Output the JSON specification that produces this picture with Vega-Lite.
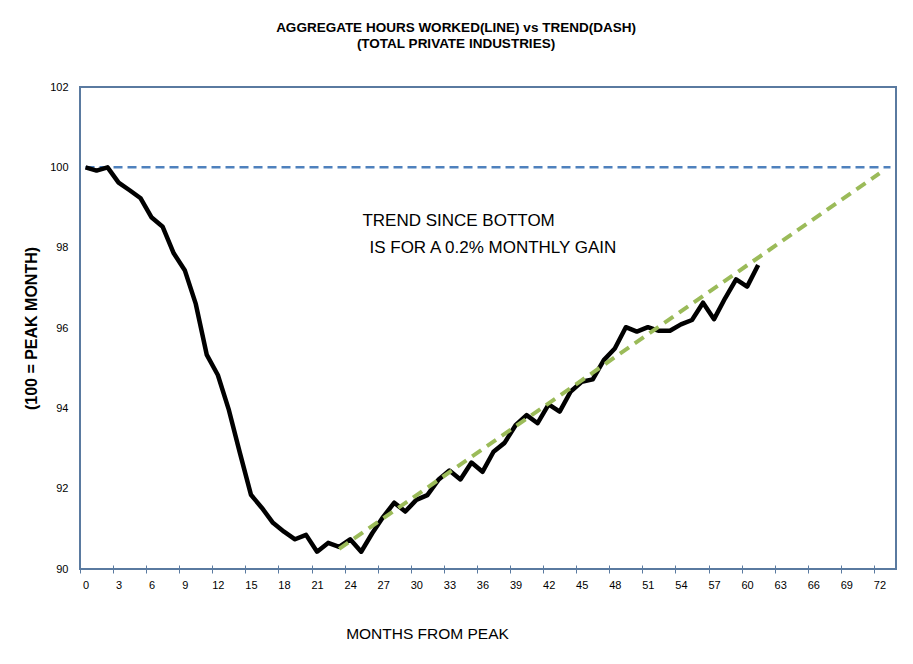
{
  "$schema": "https://vega.github.io/schema/vega-lite/v6.json",
  "width": 816,
  "height": 482,
  "autosize": {"type": "none"},
  "padding": {"left": 80, "top": 87, "right": 17, "bottom": 95},
  "background": "#ffffff",
  "config": {
    "view": {"stroke": "#5a7aa0", "strokeWidth": 2},
    "font": "Liberation Sans",
    "axis": {"labelOverlap": false, "labelFlush": false, "labelBound": false}
  },
  "title": {
    "text": ["AGGREGATE HOURS WORKED(LINE) vs TREND(DASH)", "(TOTAL PRIVATE INDUSTRIES)"],
    "font": "Liberation Sans",
    "fontSize": 13.5,
    "fontWeight": "bold",
    "lineHeight": 16,
    "anchor": "middle",
    "frame": "group",
    "dx": -32,
    "offset": 31,
    "color": "#000000"
  },
  "datasets": {
    "hours": [
      {"month": 0, "value": 100.0}, {"month": 1, "value": 99.92}, {"month": 2, "value": 100.0},
      {"month": 3, "value": 99.62}, {"month": 4, "value": 99.43}, {"month": 5, "value": 99.23},
      {"month": 6, "value": 98.75}, {"month": 7, "value": 98.52}, {"month": 8, "value": 97.86},
      {"month": 9, "value": 97.44}, {"month": 10, "value": 96.6}, {"month": 11, "value": 95.33},
      {"month": 12, "value": 94.83}, {"month": 13, "value": 93.96}, {"month": 14, "value": 92.89},
      {"month": 15, "value": 91.85}, {"month": 16, "value": 91.52}, {"month": 17, "value": 91.15},
      {"month": 18, "value": 90.93}, {"month": 19, "value": 90.74}, {"month": 20, "value": 90.85},
      {"month": 21, "value": 90.43}, {"month": 22, "value": 90.65}, {"month": 23, "value": 90.55},
      {"month": 24, "value": 90.74}, {"month": 25, "value": 90.43}, {"month": 26, "value": 90.89},
      {"month": 27, "value": 91.3}, {"month": 28, "value": 91.65}, {"month": 29, "value": 91.43},
      {"month": 30, "value": 91.72}, {"month": 31, "value": 91.84}, {"month": 32, "value": 92.22},
      {"month": 33, "value": 92.45}, {"month": 34, "value": 92.23}, {"month": 35, "value": 92.65},
      {"month": 36, "value": 92.42}, {"month": 37, "value": 92.92}, {"month": 38, "value": 93.14},
      {"month": 39, "value": 93.58}, {"month": 40, "value": 93.83}, {"month": 41, "value": 93.63},
      {"month": 42, "value": 94.1}, {"month": 43, "value": 93.92}, {"month": 44, "value": 94.42},
      {"month": 45, "value": 94.66}, {"month": 46, "value": 94.72}, {"month": 47, "value": 95.2},
      {"month": 48, "value": 95.49}, {"month": 49, "value": 96.02}, {"month": 50, "value": 95.91},
      {"month": 51, "value": 96.02}, {"month": 52, "value": 95.93}, {"month": 53, "value": 95.93},
      {"month": 54, "value": 96.09}, {"month": 55, "value": 96.2}, {"month": 56, "value": 96.63},
      {"month": 57, "value": 96.22}, {"month": 58, "value": 96.74}, {"month": 59, "value": 97.21},
      {"month": 60, "value": 97.03}, {"month": 61, "value": 97.57}
    ],
    "trend": [
      {"month": 23, "value": 90.5},
      {"month": 72, "value": 99.85}
    ],
    "peak": [
      {"level": 100}
    ],
    "note": [
      {"line": "TREND SINCE BOTTOM"}
    ],
    "note2": [
      {"line": "IS FOR A 0.2% MONTHLY GAIN"}
    ]
  },
  "layer": [
    {
      "data": {"name": "peak"},
      "mark": {"type": "rule", "color": "#4f81bd", "strokeWidth": 2.5, "strokeDash": [9, 5]},
      "encoding": {
        "x": {"datum": 0, "type": "quantitative"},
        "x2": {"datum": 73},
        "y": {"field": "level", "type": "quantitative"}
      }
    },
    {
      "data": {"name": "hours"},
      "mark": {"type": "line", "color": "#000000", "strokeWidth": 4.5, "strokeJoin": "round"},
      "encoding": {
        "x": {
          "field": "month",
          "type": "quantitative",
          "scale": {"domain": [-0.5, 73.5], "nice": false, "zero": false},
          "axis": {
            "title": "MONTHS FROM PEAK",
            "values": [-0.5, 2.5, 5.5, 8.5, 11.5, 14.5, 17.5, 20.5, 23.5, 26.5, 29.5, 32.5, 35.5, 38.5, 41.5, 44.5, 47.5, 50.5, 53.5, 56.5, 59.5, 62.5, 65.5, 68.5, 71.5],
            "tickCount": 40,
            "labelExpr": "format(datum.value + 0.5, 'd')",
            "labelOffset": 5.5,
            "labelOverlap": false,
            "labelFlush": false,
            "labelBound": false,
            "labelFontSize": 11,
            "labelColor": "#000000",
            "labelPadding": 6,
            "tickSize": 8,
            "tickColor": "#5a7aa0",
            "tickWidth": 1,
            "offset": -4,
            "domain": false,
            "grid": false,
            "titleFontSize": 15.5,
            "titleFontWeight": "normal",
            "titleColor": "#000000",
            "titleX": 347,
            "titleY": 73,
            "titleAlign": "center",
            "titleBaseline": "alphabetic"
          }
        },
        "y": {
          "field": "value",
          "type": "quantitative",
          "scale": {"domain": [90, 102], "nice": false, "zero": false},
          "axis": {
            "title": "(100 = PEAK MONTH)",
            "values": [90, 92, 94, 96, 98, 100, 102],
            "format": "d",
            "ticks": false,
            "tickSize": 0,
            "domain": false,
            "grid": false,
            "labelPadding": 12,
            "labelFontSize": 11,
            "labelColor": "#000000",
            "labelOverlap": false,
            "labelFlush": false,
            "labelBound": false,
            "titleFontSize": 16,
            "titleFontWeight": "bold",
            "titleColor": "#000000",
            "titleAngle": -90,
            "titleX": -49,
            "titleY": 241,
            "titleAlign": "center",
            "titleBaseline": "middle"
          }
        }
      }
    },
    {
      "data": {"name": "trend"},
      "mark": {"type": "line", "color": "#9bbb59", "strokeWidth": 4, "strokeDash": [11, 7]},
      "encoding": {
        "x": {"field": "month", "type": "quantitative"},
        "y": {"field": "value", "type": "quantitative"}
      }
    },
    {
      "data": {"name": "note"},
      "mark": {"type": "text", "align": "left", "baseline": "alphabetic", "fontSize": 17, "color": "#000000"},
      "encoding": {
        "x": {"datum": 25.11, "type": "quantitative"},
        "y": {"datum": 98.54, "type": "quantitative"},
        "text": {"field": "line"}
      }
    },
    {
      "data": {"name": "note2"},
      "mark": {"type": "text", "align": "left", "baseline": "alphabetic", "fontSize": 17, "color": "#000000"},
      "encoding": {
        "x": {"datum": 25.75, "type": "quantitative"},
        "y": {"datum": 97.87, "type": "quantitative"},
        "text": {"field": "line"}
      }
    }
  ]
}
